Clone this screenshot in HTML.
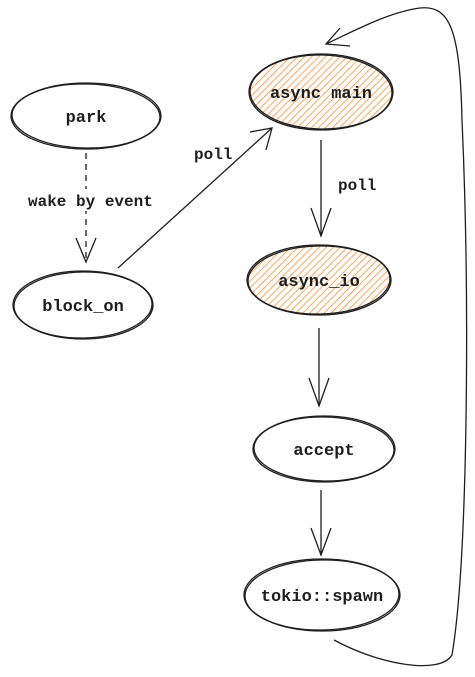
<!DOCTYPE html>
<html><head><style>html,body{margin:0;padding:0;background:#fff;width:475px;height:677px;overflow:hidden}</style></head>
<body>
<svg width="475" height="677" viewBox="0 0 475 677" xmlns="http://www.w3.org/2000/svg">
<defs>
<pattern id="h" width="5" height="5" patternUnits="userSpaceOnUse" patternTransform="rotate(45)">
<rect width="5" height="5" fill="#fff"/>
<line x1="0" y1="0" x2="0" y2="5" stroke="#f9a85a" stroke-width="2"/>
</pattern>
</defs>
<g fill="none" stroke="#1e1e1e" stroke-width="1.3">
<ellipse cx="86" cy="116" rx="75" ry="33"/>
<ellipse cx="86" cy="116" rx="74" ry="32" transform="rotate(1 86 116)"/>
<ellipse cx="83" cy="305" rx="70" ry="34"/>
<ellipse cx="83" cy="305" rx="69" ry="33" transform="rotate(-1 83 305)"/>
<ellipse cx="321" cy="92" rx="72" ry="38" fill="url(#h)"/>
<ellipse cx="321" cy="92" rx="71" ry="37" transform="rotate(1 321 92)"/>
<ellipse cx="319" cy="280" rx="72" ry="35" fill="url(#h)"/>
<ellipse cx="319" cy="280" rx="71" ry="34" transform="rotate(-1 319 280)"/>
<ellipse cx="324" cy="449" rx="71" ry="33"/>
<ellipse cx="324" cy="449" rx="70" ry="32" transform="rotate(1 324 449)"/>
<ellipse cx="322" cy="595" rx="78" ry="36"/>
<ellipse cx="322" cy="595" rx="77" ry="35" transform="rotate(-1 322 595)"/>
<path d="M86 153 L86 262" stroke-dasharray="6 5"/>
<path d="M76 238 L86 262 L96 238"/>
<path d="M118 268 L272 128"/>
<path d="M250 132 L272 128 L266 150"/>
<path d="M321 140 L321 236"/>
<path d="M311 208 L321 236 L331 208"/>
<path d="M319 328 L319 406"/>
<path d="M309 378 L319 406 L329 378"/>
<path d="M321 490 L321 555"/>
<path d="M311 528 L321 555 L331 528"/>
<path d="M334 640 C380 665 440 675 452 655 C468 560 470 300 462 120 C460 30 450 5 420 8 C390 12 360 28 326 44"/>
<path d="M340 28 L326 44 L350 46"/>
</g>
<g font-family="Liberation Mono, monospace" font-size="17" font-weight="bold" fill="#1e1e1e" text-anchor="middle">
<text x="86" y="122">park</text>
<text x="83" y="311">block_on</text>
<text x="321" y="98">async main</text>
<text x="319" y="286">async_io</text>
<text x="324" y="455">accept</text>
<text x="322" y="601">tokio::spawn</text>
</g>
<g font-family="Liberation Mono, monospace" font-size="16" fill="#1e1e1e" font-weight="bold">
<rect x="28" y="189" width="150" height="22" fill="#fff"/>
<text x="28" y="206">wake by event</text>
<text x="194" y="159">poll</text>
<text x="338" y="190">poll</text>
</g>
</svg>
</body></html>
